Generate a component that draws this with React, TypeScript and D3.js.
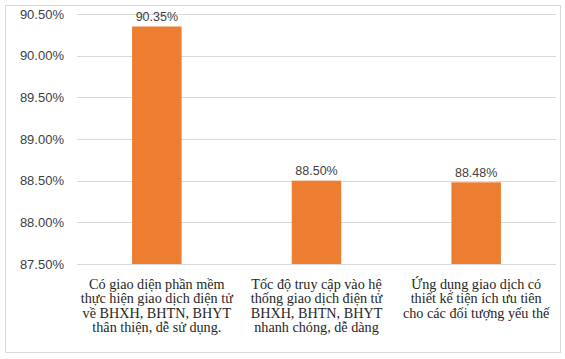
import React from "react";
import * as d3 from "d3";

const categories = [
  ["Có giao diện phần mềm", "thực hiện giao dịch điện tử", "về BHXH, BHTN, BHYT", "thân thiện, dễ sử dụng."],
  ["Tốc độ truy cập vào hệ", "thống giao dịch điện tử", "BHXH, BHTN, BHYT", "nhanh chóng, dễ dàng"],
  ["Ứng dụng giao dịch có", "thiết kế tiện ích ưu tiên", "cho các đối tượng yếu thế"],
];
const values = [90.35, 88.5, 88.48];
const yTicks = [87.5, 88.0, 88.5, 89.0, 89.5, 90.0, 90.5];

const W = 565;
const H = 359;
const left = 77;
const right = 556;
const top = 14;
const bottom = 264;

const serif = { fontFamily: "Liberation Serif, Times New Roman, serif" };
const sans = { fontFamily: "Liberation Sans, Arial, sans-serif" };

export default function App() {
  const x = d3.scaleBand<number>().domain(values.map((_, i) => i)).range([left, right]).paddingInner(0.69).paddingOuter(0.345);
  const y = d3.scaleLinear().domain([87.5, 90.5]).range([bottom, top]);
  return (
    <svg width={W} height={H} style={{ position: "absolute", left: 0, top: 0 }}>
      <rect x={0} y={0} width={W} height={H} fill="#fff" />
      <rect x={5.5} y={5.5} width={555} height={347} fill="none" stroke="#d9d9d9" strokeWidth={1} />
      {yTicks.map((t) => (
        <g key={t}>
          <line x1={left} x2={right} y1={Math.round(y(t)) + 0.5} y2={Math.round(y(t)) + 0.5} stroke="#d9d9d9" strokeWidth={1} />
          <text x={64} y={y(t)} dy="0.35em" textAnchor="end" style={sans} fontSize={13} fill="#404040">
            {t.toFixed(2)}%
          </text>
        </g>
      ))}
      {values.map((v, i) => {
        const bx = x(i)!;
        const cx = bx + x.bandwidth() / 2;
        return (
          <g key={i}>
            <rect x={bx} y={y(v)} width={x.bandwidth()} height={bottom - y(v)} fill="#ed7d31" />
            <text x={cx} y={y(v) - 10} dy="0.35em" textAnchor="middle" style={sans} fontSize={12.5} fill="#404040">
              {v.toFixed(2)}%
            </text>
            {categories[i].map((line, j) => (
              <text key={j} x={cx} y={284 + j * 14.5} dy="0.35em" textAnchor="middle" style={serif} fontSize={14.2} fill="#262626">
                {line}
              </text>
            ))}
          </g>
        );
      })}
    </svg>
  );
}
